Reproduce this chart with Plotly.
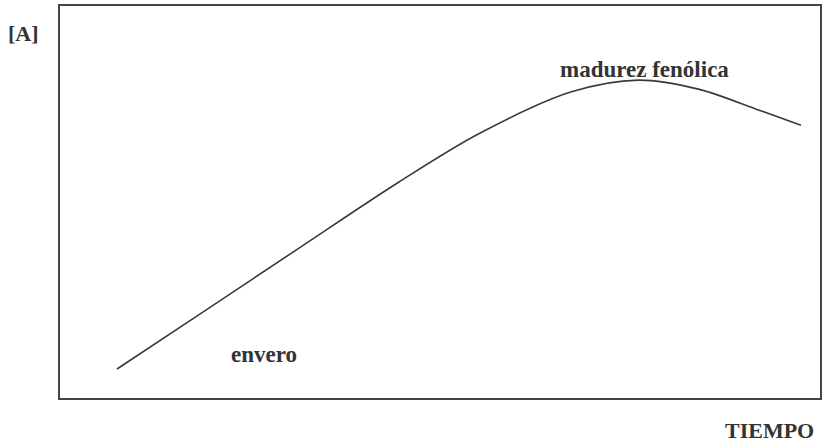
import plotly.graph_objects as go

# Curve (time axis 0-100, concentration 0-100)
tiempo = [7.5, 18.4, 31.5, 44.6, 55.1, 67.3, 76.1, 84.0, 91.9, 97.5]
concentracion = [7.4, 21.4, 38.3, 55.1, 67.4, 78.1, 81.1, 78.8, 73.5, 69.6]

labels = ["[A]", "madurez fenólica", "envero", "TIEMPO"]
label_x = [-0.0486, 0.769, 0.268, 0.934]
label_y = [0.931, 0.837, 0.110, -0.082]
label_size = [22, 23, 23, 22]

fig = go.Figure()
fig.add_trace(go.Scatter(
    x=tiempo, y=concentracion, mode="lines",
    line=dict(color="#3a3a3a", width=1.6, shape="spline", smoothing=0.9),
    hoverinfo="skip", showlegend=False,
))

for t, x, y, s in zip(labels, label_x, label_y, label_size):
    fig.add_annotation(
        x=x, y=y, xref="paper", yref="paper", text="<b>" + t + "</b>", showarrow=False,
        font=dict(family="Liberation Serif, DejaVu Serif, serif", size=s, color="#333333"),
        xanchor="center", yanchor="middle",
    )

axis_common = dict(showgrid=False, zeroline=False, showticklabels=False, ticks="",
                   showline=True, linecolor="#444444", linewidth=2, mirror=True,
                   fixedrange=True)
fig.update_xaxes(range=[0, 100], **axis_common)
fig.update_yaxes(range=[0, 100], **axis_common)

fig.update_layout(
    width=825, height=442,
    margin=dict(l=60, r=3, t=6, b=44),
    paper_bgcolor="white", plot_bgcolor="white",
)

fig.write_html("out.html", config={"displayModeBar": False},
               post_script="document.body.style.margin='0';")
